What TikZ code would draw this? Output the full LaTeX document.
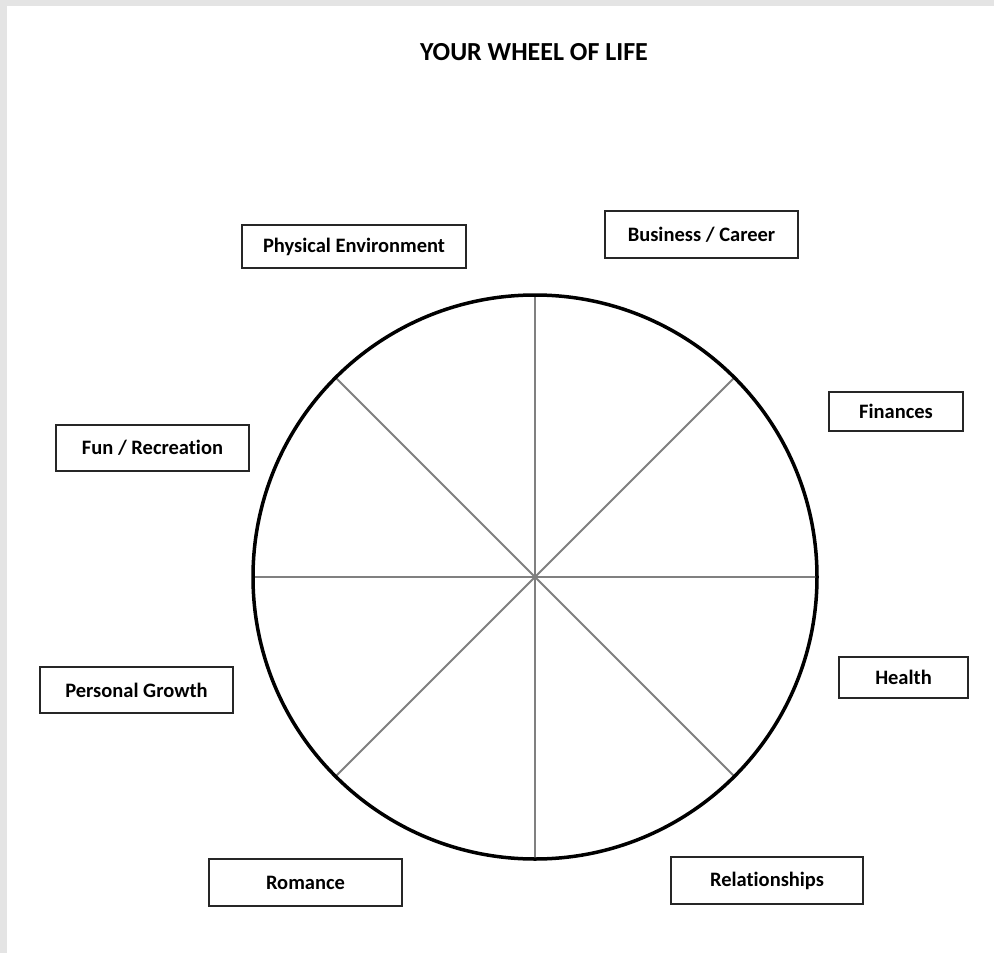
\documentclass[tikz,border=0pt]{standalone}
\usepackage{fontspec}
\setmainfont{Carlito}[Ligatures={NoCommon}]
\definecolor{frame}{HTML}{E4E4E4}
\definecolor{spoke}{HTML}{808080}
\tikzset{
  lbl/.style={draw=black!85, line width=1.3pt, fill=white, inner sep=0pt, font=\fontsize{20.5}{24}\selectfont\bfseries},
}
\begin{document}
\begin{tikzpicture}[x=1pt,y=-1pt]
\useasboundingbox (0,0) rectangle (994,953);
\fill[frame] (0,0) rectangle (994,953);
\fill[white] (7,6) rectangle (994,953);
\node[font=\fontsize{26}{30}\selectfont\bfseries] (title) at (534,52) {YOUR WHEEL OF LIFE};
\coordinate (c) at (535,577);
\foreach \a in {0,45,...,315}{
  \draw[spoke, line width=1.8pt] (c) -- ++(\a:282);
}
\draw[black, line width=3.5pt] (c) circle (282);
\node[lbl, minimum width=224, minimum height=43] (pe) at (354,246.5) {Physical Environment};
\node[lbl, minimum width=193, minimum height=47] (bc) at (701.5,234.5) {Business / Career};
\node[lbl, minimum width=134, minimum height=39] (fi) at (896,411.5) {Finances};
\node[lbl, minimum width=193, minimum height=46] (fr) at (152.5,448) {Fun / Recreat{}ion};
\node[lbl, minimum width=193, minimum height=46] (pg) at (136.5,690) {Personal Growth};
\node[lbl, minimum width=129, minimum height=41] (he) at (903.5,677.5) {Health};
\node[lbl, minimum width=193, minimum height=47] (ro) at (305.5,882.5) {Romance};
\node[lbl, minimum width=192, minimum height=47] (re) at (767,880.5) {Relat{}ionships};
\end{tikzpicture}
\end{document}
